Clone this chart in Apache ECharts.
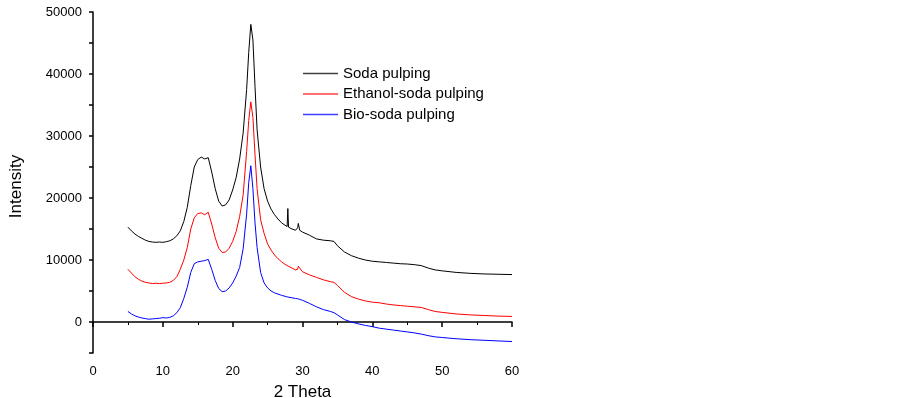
<!DOCTYPE html>
<html>
<head>
<meta charset="utf-8">
<script src="https://cdn.jsdelivr.net/npm/echarts@6/dist/echarts.min.js"></script>
<style>
  html, body { margin: 0; padding: 0; background: #fff; }
  #chart { width: 899px; height: 398px; }
</style>
</head>
<body>
<div id="chart"></div>
<script>
// 2 theta (deg)
const theta = [5, 5.5, 6, 6.5, 7, 7.5, 8, 8.5, 9, 9.5, 10, 10.5, 11, 11.5, 12, 12.5, 13, 13.5, 14, 14.5,
  15, 15.5, 16, 16.5, 17, 17.5, 18, 18.5, 19, 19.5, 20, 20.5, 21, 21.5, 22, 22.3, 22.6, 22.9, 23.2, 23.5,
  24, 24.5, 25, 25.5, 26, 26.5, 27, 27.5, 27.8, 27.9, 28, 28.5, 29, 29.3, 29.4, 29.6, 30, 31, 32, 33,
  34, 34.5, 35, 36, 37, 38, 39, 40, 41, 42, 43, 44, 45, 46, 47, 48, 49, 50, 52, 54, 56, 58, 60];

const sodaPulping = [15300, 14700, 14200, 13800, 13500, 13200, 13000, 12900, 12850, 12900, 12850, 12950, 13100, 13400, 13900, 14700, 16200, 18500, 22000, 25000,
  26200, 26600, 26300, 26500, 24200, 21500, 19500, 18700, 18900, 19700, 21300, 23300, 26300, 30500, 37500, 43500, 48000, 45500, 38000, 31000,
  25000, 21500, 19500, 18200, 17300, 16600, 16000, 15600, 15400, 18300, 15300, 15000, 14800, 15200, 15900, 14800, 14500, 14000, 13400, 13200,
  13100, 13000, 12300, 11300, 10700, 10300, 10000, 9800, 9700, 9600, 9500, 9400, 9350, 9250, 9100, 8700, 8400, 8250, 8000, 7850, 7750, 7700, 7650];

const ethanolSodaPulping = [8500, 7900, 7300, 6900, 6600, 6400, 6300, 6200, 6250, 6200, 6250, 6300, 6400, 6700, 7300, 8500, 10000, 12000, 15000, 16800,
  17500, 17600, 17300, 17700, 15800, 13600, 11900, 11200, 11300, 11900, 13000, 14600, 17000, 20500, 27500, 32500, 35500, 33000, 27000, 21500,
  16500, 14300, 12600, 11600, 10800, 10200, 9700, 9300, 9100, 9050, 9000, 8700, 8400, 8500, 9000, 8700, 8100, 7600, 7200, 6800,
  6500, 6400, 5900, 4800, 4100, 3700, 3400, 3200, 3100, 2900, 2750, 2650, 2550, 2450, 2350, 2000, 1700, 1550, 1300, 1150, 1050, 950, 900];

const bioSodaPulping = [1700, 1300, 1000, 800, 650, 550, 450, 500, 550, 600, 700, 650, 750, 1000, 1500, 2300, 3800, 5600, 8000, 9400,
  9700, 9800, 9900, 10100, 8500, 6700, 5400, 4900, 5000, 5500, 6300, 7400, 8800, 11800, 17400, 22500, 25200, 21500, 16000, 12000,
  8000, 6300, 5500, 5000, 4700, 4500, 4300, 4150, 4050, 4000, 4000, 3900, 3800, 3750, 3700, 3650, 3500, 3000, 2450, 2000,
  1700, 1500, 1150, 400, 0, -300, -550, -750, -1000, -1150, -1300, -1450, -1600, -1750, -1950, -2200, -2400, -2500, -2700, -2850, -2950, -3050, -3150];

const seriesNames = ['Soda pulping', 'Ethanol-soda pulping', 'Bio-soda pulping'];
const seriesColors = ['#000000', '#ff0000', '#0000ff'];

const font = 'Liberation Sans, Arial, sans-serif';
const chart = echarts.init(document.getElementById('chart'));

const pairs = arr => theta.map((t, i) => [t, arr[i]]);

chart.setOption({
  animation: false,
  backgroundColor: '#ffffff',
  grid: { left: 93, right: 387, top: 12, bottom: 45, outerBoundsMode: 'none', containLabel: false },
  legend: {
    orient: 'vertical',
    left: 298,
    top: 61,
    icon: 'rect',
    itemWidth: 35,
    itemHeight: 1.5,
    itemGap: 5.5,
    textStyle: { fontFamily: font, fontSize: 15, color: '#000' },
    data: seriesNames.map((name, i) => ({ name, itemStyle: { color: seriesColors[i], opacity: 0.75 } }))
  },
  xAxis: {
    type: 'value',
    min: 0,
    max: 60,
    interval: 10,
    name: '2 Theta',
    nameLocation: 'middle',
    nameGap: 31,
    nameTextStyle: { fontFamily: font, fontSize: 17, color: '#000' },
    axisLine: { lineStyle: { color: '#000', width: 1.5 } },
    axisTick: { length: 5, lineStyle: { color: '#000', width: 1.5 } },
    minorTick: { show: true, splitNumber: 2, length: 3, lineStyle: { color: '#000', width: 1 } },
    axisLabel: { fontFamily: font, fontSize: 13, color: '#000', margin: 12 },
    splitLine: { show: false }
  },
  yAxis: {
    type: 'value',
    min: -5000,
    max: 50000,
    interval: 5000,
    name: 'Intensity',
    nameLocation: 'middle',
    nameGap: 68,
    nameTextStyle: { fontFamily: font, fontSize: 17, color: '#000', padding: [0, 8, 0, 0] },
    axisLine: { show: true, lineStyle: { color: '#000', width: 1.5 } },
    axisTick: { show: true, length: 4, lineStyle: { color: '#000', width: 1.5 } },
    axisLabel: {
      fontFamily: font, fontSize: 13, color: '#000', margin: 11,
      formatter: v => (v % 10000 === 0 ? String(v) : '')
    },
    splitLine: { show: false }
  },
  series: seriesNames.map((name, i) => ({
    name,
    type: 'line',
    symbol: 'none',
    itemStyle: { color: seriesColors[i] },
    lineStyle: { width: 1, color: seriesColors[i] },
    data: pairs([sodaPulping, ethanolSodaPulping, bioSodaPulping][i])
  }))
});
</script>
</body>
</html>
